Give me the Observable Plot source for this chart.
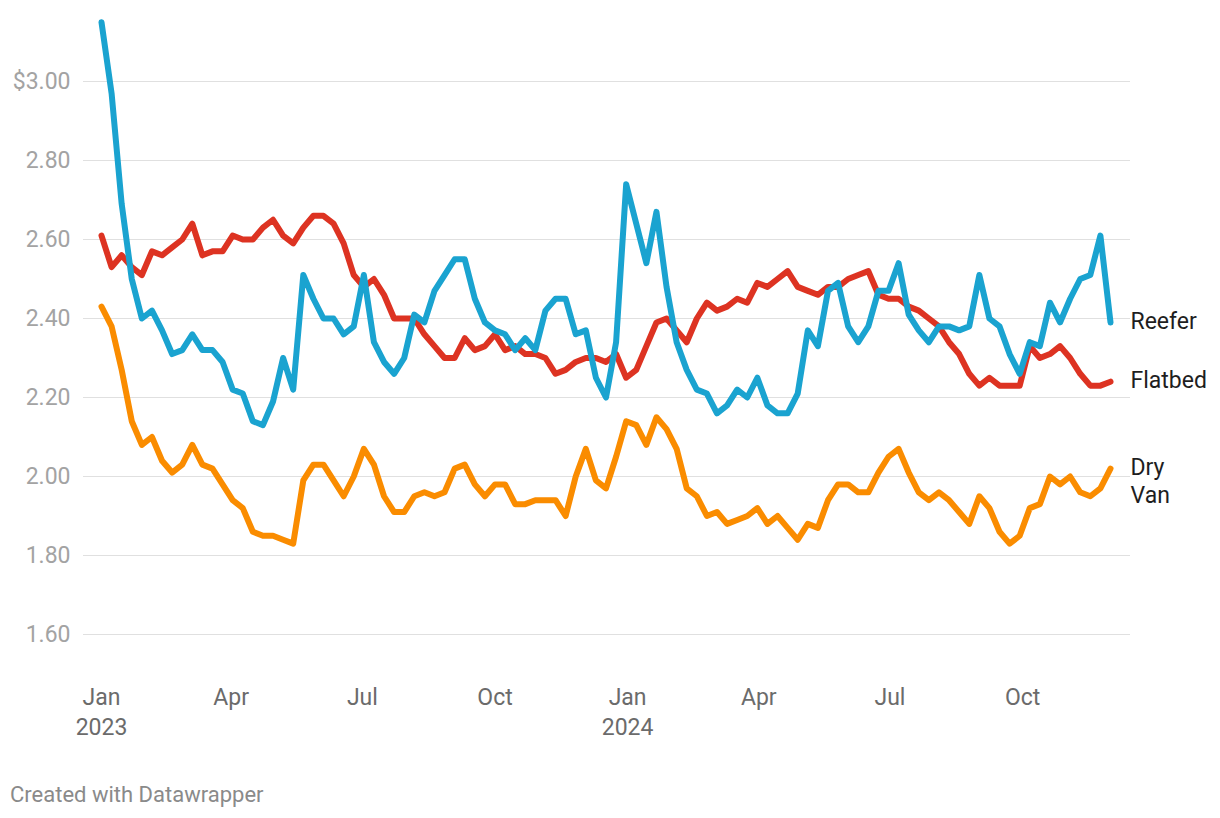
<!DOCTYPE html>
<html><head><meta charset="utf-8">
<script src="https://cdn.jsdelivr.net/npm/d3@7"></script>
<script src="https://cdn.jsdelivr.net/npm/@observablehq/plot@0.6"></script>
<style>
body{margin:0;background:#fff;font-family:Roboto,sans-serif;}
#chart{position:absolute;left:0;top:0;}
#caption{position:absolute;left:10px;top:782px;font-size:22px;line-height:26px;color:#8a8a8a;font-family:Roboto,sans-serif;}
</style></head><body>
<div id="chart"></div>
<div id="caption">Created with Datawrapper</div>
<script>
const startDate = "2023-01-01";
const endDate = "2024-12-01";
const seriesNames = ["Reefer", "Flatbed", "Dry Van"];
const seriesColors = ["#1aa3d0", "#dd3322", "#fa8c00"];
const reefer = [3.15,2.97,2.69,2.50,2.40,2.42,2.37,2.31,2.32,2.36,2.32,2.32,2.29,2.22,2.21,2.14,2.13,2.19,2.30,2.22,
2.51,2.45,2.40,2.40,2.36,2.38,2.51,2.34,2.29,2.26,2.30,2.41,2.39,2.47,2.51,2.55,2.55,2.45,2.39,2.37,
2.36,2.32,2.35,2.32,2.42,2.45,2.45,2.36,2.37,2.25,2.20,2.34,2.74,2.64,2.54,2.67,2.48,2.34,2.27,2.22,
2.21,2.16,2.18,2.22,2.20,2.25,2.18,2.16,2.16,2.21,2.37,2.33,2.47,2.49,2.38,2.34,2.38,2.47,2.47,2.54,
2.41,2.37,2.34,2.38,2.38,2.37,2.38,2.51,2.40,2.38,2.31,2.26,2.34,2.33,2.44,2.39,2.45,2.50,2.51,2.61,2.39];
const flatbed = [2.61,2.53,2.56,2.53,2.51,2.57,2.56,2.58,2.60,2.64,2.56,2.57,2.57,2.61,2.60,2.60,2.63,2.65,2.61,2.59,
2.63,2.66,2.66,2.64,2.59,2.51,2.48,2.50,2.46,2.40,2.40,2.40,2.36,2.33,2.30,2.30,2.35,2.32,2.33,2.36,
2.32,2.33,2.31,2.31,2.30,2.26,2.27,2.29,2.30,2.30,2.29,2.31,2.25,2.27,2.33,2.39,2.40,2.37,2.34,2.40,
2.44,2.42,2.43,2.45,2.44,2.49,2.48,2.50,2.52,2.48,2.47,2.46,2.48,2.48,2.50,2.51,2.52,2.46,2.45,2.45,
2.43,2.42,2.40,2.38,2.34,2.31,2.26,2.23,2.25,2.23,2.23,2.23,2.33,2.30,2.31,2.33,2.30,2.26,2.23,2.23,2.24];
const dryVan = [2.43,2.38,2.27,2.14,2.08,2.10,2.04,2.01,2.03,2.08,2.03,2.02,1.98,1.94,1.92,1.86,1.85,1.85,1.84,1.83,
1.99,2.03,2.03,1.99,1.95,2.00,2.07,2.03,1.95,1.91,1.91,1.95,1.96,1.95,1.96,2.02,2.03,1.98,1.95,1.98,
1.98,1.93,1.93,1.94,1.94,1.94,1.90,2.00,2.07,1.99,1.97,2.05,2.14,2.13,2.08,2.15,2.12,2.07,1.97,1.95,
1.90,1.91,1.88,1.89,1.90,1.92,1.88,1.90,1.87,1.84,1.88,1.87,1.94,1.98,1.98,1.96,1.96,2.01,2.05,2.07,
2.01,1.96,1.94,1.96,1.94,1.91,1.88,1.95,1.92,1.86,1.83,1.85,1.92,1.93,2.00,1.98,2.00,1.96,1.95,1.97,2.02];
const yTicks = [1.6, 1.8, 2.0, 2.2, 2.4, 2.6, 2.8, 3.0];
const xTickDates = ["2023-01-01","2023-04-01","2023-07-01","2023-10-01","2024-01-01","2024-04-01","2024-07-01","2024-10-01"];
const xTickLabels = ["Jan\n2023","Apr","Jul","Oct","Jan\n2024","Apr","Jul","Oct"];

const start = new Date(startDate);
const seriesValues = [reefer, flatbed, dryVan];
const rows = [];
seriesValues.forEach((vals, s) => vals.forEach((v, i) => rows.push({
  date: d3.utcDay.offset(start, 7 * i), value: v, series: seriesNames[s]
})));
const lastRows = seriesNames.map(n => rows.filter(r => r.series === n).at(-1));
const xTicks = xTickDates.map(d => new Date(d));
const labelMap = new Map(xTicks.map((d, i) => [+d, xTickLabels[i]]));

const H = 770;
const lineOpts = {x: "date", y: "value", stroke: "series", strokeWidth: 6, strokeLinejoin: "round", strokeLinecap: "round"};
const chart = Plot.plot({
  width: 1220, height: H,
  marginLeft: 83, marginRight: 90, marginTop: 0, marginBottom: H - 635,
  style: {fontFamily: "Roboto, sans-serif", background: "#fff"},
  x: {type: "utc", domain: [start, new Date(endDate)], range: [101, 1110]},
  y: {domain: [1.6, 3.0], range: [634, 81]},
  color: {domain: seriesNames, range: seriesColors},
  marks: [
    Plot.ruleY(yTicks, {stroke: "#e0e0e0", strokeWidth: 1}),
    Plot.axisY(yTicks, {tickSize: 0, tickPadding: 13, fontSize: 23, color: "#a3a3a3",
      tickFormat: d => (d === 3 ? "$" : "") + d.toFixed(2), label: null}),
    Plot.axisX(xTicks, {tickSize: 0, tickPadding: 48, fontSize: 23, color: "#6b6b6b",
      lineHeight: 1.3, tickFormat: d => labelMap.get(+d), label: null}),
    Plot.line(rows.filter(r => r.series === "Dry Van"), lineOpts),
    Plot.line(rows.filter(r => r.series === "Flatbed"), lineOpts),
    Plot.line(rows.filter(r => r.series === "Reefer"), lineOpts),
    Plot.text(lastRows.filter(r => r.series !== "Dry Van"), {x: "date", y: "value", text: "series", dx: 20, dy: -1, textAnchor: "start", fontSize: 23, fill: "#1e1e1e"}),
    Plot.text(lastRows.filter(r => r.series === "Dry Van"), {x: "date", y: "value", text: d => "Dry\nVan", dx: 20, dy: 11, lineHeight: 1.22, textAnchor: "start", fontSize: 23, fill: "#1e1e1e"})
  ]
});
document.getElementById("chart").appendChild(chart);
</script>
</body></html>
